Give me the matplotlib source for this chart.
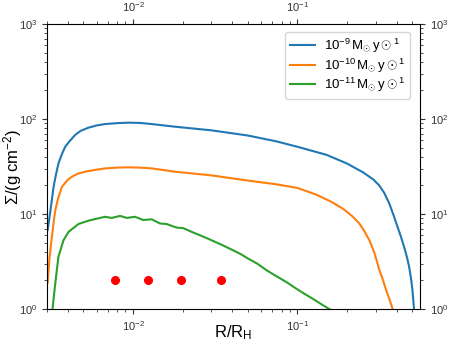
import numpy as np
import matplotlib
matplotlib.use('Agg')
import matplotlib.pyplot as plt

plt.rcParams['font.family'] = ['Liberation Sans', 'DejaVu Sans']
plt.rcParams['mathtext.fontset'] = 'custom'
plt.rcParams['mathtext.rm'] = 'Liberation Sans'
plt.rcParams['mathtext.it'] = 'Liberation Sans:italic'
plt.rcParams['mathtext.sf'] = 'Liberation Sans'

# surface density profiles
r_hi = [0.00303, 0.0031, 0.0032, 0.00329, 0.0034, 0.00352, 0.0037, 0.00387, 0.0041,
	0.00445, 0.0048, 0.00535, 0.006, 0.00676, 0.008, 0.00937, 0.011, 0.013, 0.018,
	0.03, 0.05, 0.075, 0.1, 0.15, 0.2, 0.25, 0.29, 0.314, 0.336, 0.361, 0.383, 0.405,
	0.425, 0.445, 0.463, 0.477, 0.49, 0.5, 0.511]
sig_hi = [6.8, 9.0, 13.5, 19.4, 26, 34, 43, 51, 58,
	68, 75, 81, 85.5, 88.5, 90.5, 91.5, 91, 88.5, 83,
	76, 67, 58, 51, 42, 34, 27.5, 23, 20, 16.8, 13, 9.8, 7.4,
	5.8, 4.5, 3.5, 2.8, 2.1, 1.58, 1.0]

r_mid = [0.00303, 0.0031, 0.00318, 0.0033, 0.00337, 0.0035, 0.0037, 0.004, 0.00425,
	0.0046, 0.00512, 0.006, 0.00676, 0.008, 0.00937, 0.011, 0.013, 0.018,
	0.03, 0.05, 0.075, 0.1, 0.13, 0.16, 0.19, 0.215, 0.237, 0.255, 0.275, 0.295,
	0.314, 0.33, 0.345, 0.362, 0.379]
sig_mid = [1.9, 3.3, 5.0, 8.5, 11, 14.5, 19.4, 22.8, 24.7,
	26.5, 27.9, 29.3, 30.2, 30.8, 31, 30.8, 30.2, 27.9,
	25.5, 22.5, 20.5, 18.8, 16, 13.5, 11.3, 9.5, 8.0, 6.6, 5.2, 3.8,
	2.6, 2.05, 1.6, 1.27, 1.0]

r_lo = [0.00324, 0.00337, 0.00352, 0.00378, 0.00406, 0.00466, 0.00535, 0.00589, 0.00676,
	0.00742, 0.00834, 0.00916, 0.01028, 0.01154, 0.01297, 0.01459, 0.016, 0.0184, 0.0202,
	0.0227, 0.026, 0.03, 0.035, 0.04, 0.045, 0.05, 0.057, 0.0646, 0.075, 0.0865, 0.0977,
	0.11, 0.125, 0.14, 0.156]
sig_lo = [1.0, 1.88, 3.55, 5.3, 6.5, 7.85, 8.5, 8.85, 9.35,
	9.1, 9.55, 9.1, 9.35, 8.65, 8.8, 7.95, 7.85, 7.2, 7.1,
	6.5, 5.9, 5.3, 4.7, 4.2, 3.8, 3.4, 3.0, 2.57, 2.2, 1.9, 1.65,
	1.45, 1.27, 1.12, 1.0]

labels = [r'$10^{-9}\,\mathrm{M_{\odot}\,y}\odot^{1}$',
	r'$10^{-10}\,\mathrm{M_{\odot}\,y}\odot^{1}$',
	r'$10^{-11}\,\mathrm{M_{\odot}\,y}\odot^{1}$']

# marked radii
r_dots = [0.00778, 0.01227, 0.01965, 0.0345]
sig_dots = [2, 2, 2, 2]

fig = plt.figure(figsize=(4.52, 3.48), dpi=100)
ax = fig.add_axes([0.104, 0.112, 0.825, 0.819])

ax.plot(r_hi, sig_hi, color='#1f77b4', lw=1.5, label=labels[0])
ax.plot(r_mid, sig_mid, color='#ff7f0e', lw=1.5, label=labels[1])
ax.plot(r_lo, sig_lo, color='#2ca02c', lw=1.5, label=labels[2])
ax.plot(r_dots, sig_dots, 'o', color='red', ms=5.5, ls='none')

ax.set_xscale('log')
ax.set_yscale('log')
ax.set_xlim(0.003, 0.555)
ax.set_ylim(1, 1000)

ax.tick_params(which='both', top=True, right=True, labeltop=True, labelright=True,
	labelsize=8, colors='#333333', labelcolor='#333333')
for s in ax.spines.values():
	s.set_color('black')

ax.set_xlabel(r'$\mathrm{R/R_H}$', fontsize=12)
ax.set_ylabel(r'$\Sigma/(\mathrm{g\;cm^{-2}})$', fontsize=12)
ax.xaxis.set_label_coords(0.5, -0.05)
ax.yaxis.set_label_coords(-0.062, 0.5)

ax.legend(loc='upper right', fontsize=9.5, frameon=True, borderpad=0.35,
	labelspacing=0.1, handlelength=1.9, handletextpad=0.7, borderaxespad=0.3,
	bbox_to_anchor=(0.985, 0.985))

fig.savefig('out.png', dpi=100)
